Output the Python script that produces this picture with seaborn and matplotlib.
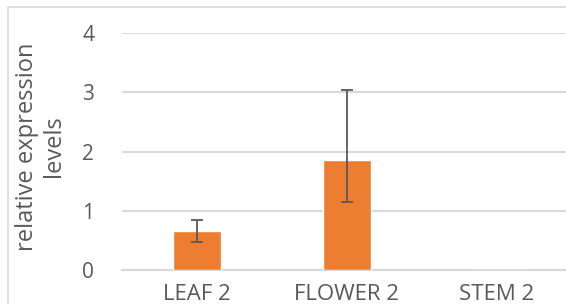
import matplotlib
matplotlib.use("Agg")
import matplotlib.pyplot as plt
import seaborn as sns
from matplotlib.patches import Rectangle

# data
tissues = ["LEAF 2", "FLOWER 2", "STEM 2"]
expression = [0.65, 1.86, 0.0]
err_low = [0.18, 0.71, 0.0]
err_high = [0.20, 1.18, 0.0]

sns.set_style("white")
plt.rcParams["font.family"] = ["Open Sans", "DejaVu Sans"]

text_col = "#595959"
grid_col = "#D9D9D9"

fig = plt.figure(figsize=(5.66, 3.04), dpi=100)
ax = fig.add_axes([122 / 566, 34 / 304, 450 / 566, 237 / 304])

sns.barplot(x=tissues, y=expression, color="#ED7D31", saturation=1,
            width=0.32, ax=ax, zorder=3)

# error bars only where there is a bar
idx = [i for i, v in enumerate(expression) if v > 0]
ax.errorbar(idx, [expression[i] for i in idx],
            yerr=[[err_low[i] for i in idx], [err_high[i] for i in idx]],
            fmt="none", ecolor=text_col, elinewidth=1.3, capsize=4.3,
            capthick=1.3, zorder=4)

ax.set_ylim(0, 4)
ax.set_xlim(-0.5, 2.5)
ax.set_yticks([0, 1, 2, 3, 4])
ax.yaxis.grid(True, color=grid_col, linewidth=1.5, zorder=0)
ax.set_axisbelow(True)
for side in ["top", "right", "left"]:
    ax.spines[side].set_visible(False)
ax.spines["bottom"].set_color(grid_col)
ax.spines["bottom"].set_linewidth(1.5)
ax.spines["bottom"].set_zorder(2)

ax.tick_params(axis="both", length=0, colors=text_col)
ax.tick_params(axis="y", pad=20, labelsize=15)
ax.tick_params(axis="x", pad=10, labelsize=16)
ax.set_xlabel("")
ax.set_ylabel("relative expression\nlevels", color=text_col, fontsize=17,
              linespacing=1.15)
ax.yaxis.set_label_coords(-0.124, 0.521)

# chart area frame like the spreadsheet export
fig.patches.append(Rectangle((7.5 / 566, -0.1), 1.2, 1.1 - 7 / 304,
                             transform=fig.transFigure, fill=False,
                             edgecolor=grid_col, linewidth=1.2))

fig.savefig("out.png", dpi=100)
